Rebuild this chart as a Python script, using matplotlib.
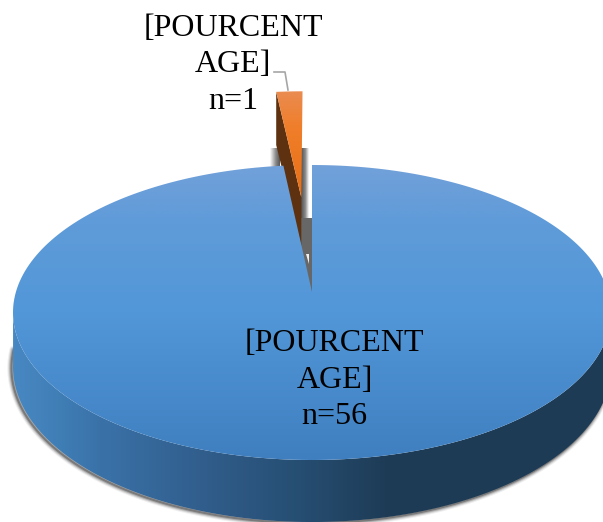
import numpy as np
import matplotlib
matplotlib.use('Agg')
import matplotlib.pyplot as plt
from matplotlib.colors import LinearSegmentedColormap
from matplotlib.patches import Polygon
from matplotlib.transforms import Affine2D

# counts and labels
counts = [56, 1]
pct_text = '[POURCENT\nAGE]'
slice_explode = [0, 0.72]

W, H = 603, 522

# fake 3d view, pie coords -> pixels
apex_x, apex_y = 312, 292
tilt = 0.139
sx, sy = 296.1, 144.65
depth = 53.4


def project(pts):
    w = 1 + tilt * pts[:, 1]
    return np.column_stack([apex_x + sx * pts[:, 0] / w, apex_y - sy * pts[:, 1] / w])


def extrude(pts):
    w = 1 + tilt * pts[:, 1]
    out = project(pts)
    out[:, 1] += depth / w
    return out


def gradient(ax, stops, vertical, clip, z):
    cmap = LinearSegmentedColormap.from_list('g', stops)
    g = np.linspace(0, 1, 512)
    g = g.reshape(-1, 1) if vertical else g.reshape(1, -1)
    box = clip.get_path().vertices
    x0, y0 = box.min(axis=0)
    x1, y1 = box.max(axis=0)
    im = ax.imshow(g, cmap=cmap, extent=(x0, x1, y1, y0), aspect='auto', zorder=z, interpolation='bilinear')
    im.set_clip_path(clip)


fig = plt.figure(figsize=(W / 100, H / 100), dpi=100)
ax = fig.add_axes([0, 0, 1, 1])
wedges, _ = ax.pie(counts, explode=slice_explode, startangle=90, counterclock=False, radius=1)

polys = []
for wd in wedges:
    poly = wd.get_path().to_polygons(Affine2D().scale(1000))[0] / 1000
    polys.append(poly)
    wd.set_visible(False)
main, small = polys


def by_angle(pts):
    return pts[np.argsort(np.arctan2(pts[:, 1], pts[:, 0]))]


# front wall of the big slice
front = by_angle(main[main[:, 1] < -0.1])
wall_xy = np.vstack([project(front), extrude(front)[::-1]])

# soft shadow under the disc, starts a bit higher than the wall
edge = extrude(by_angle(main[main[:, 1] < -0.02])) + [-1.5, 1]
for lw, a in [(6, 0.08), (4.5, 0.15), (3, 0.25), (1.5, 0.4)]:
    ax.plot(edge[:, 0], edge[:, 1], color='#333333', lw=lw, alpha=a, zorder=1, solid_capstyle='round')

wall = Polygon(wall_xy, closed=True, fc='none', ec='none', zorder=2)
ax.add_patch(wall)
gradient(ax, [(0, '#4888c2'), (0.08, '#3f7db5'), (0.145, '#3a72a8'), (0.33, '#305c8a'), (0.48, '#264e72'),
              (0.62, '#1e3c57'), (1, '#1f3b56')], False, wall, 2)

# shadows seen through the gap
small_face = project(small)
tip_x, tip_y = small_face[np.argmax(small_face[:, 1])]
top_y = small_face[:, 1].min()
x_left = small_face[:, 0].min()
shadow_top = top_y + 57
mid_y = tip_y + 21

s1 = Polygon([(tip_x, shadow_top), (tip_x + 8, shadow_top), (tip_x + 8, mid_y), (tip_x, mid_y)], fc='none', ec='none')
ax.add_patch(s1)
gradient(ax, [(0, '#505050'), (0.55, '#8a8a8a'), (1, '#ffffff')], False, s1, 3)
s2 = Polygon([(x_left - 6, shadow_top), (x_left + 4, shadow_top), (x_left + 4, shadow_top + 22), (x_left - 6, shadow_top + 22)],
             fc='none', ec='none')
ax.add_patch(s2)
gradient(ax, [(0, '#ffffff'), (0.6, '#888888'), (1, '#555555')], False, s2, 3)
# gray fills the whole notch under the shadow, big slice top hides the excess
ax.add_patch(Polygon([(tip_x - 12, mid_y), (apex_x, mid_y), (apex_x, apex_y), (apex_x - 4, apex_y)],
                     fc='#676767', ec='none', zorder=3))
ax.add_patch(Polygon([(apex_x - 6, mid_y + 36), (apex_x - 3.5, mid_y + 36), (apex_x - 3.5, mid_y + 46)],
                     fc='#f0f0f0', ec='none', zorder=3.5))

# small slice, exploded
rim = small[np.abs(small[:, 1] - small[:, 1].max()) < 0.02]
rim_left = rim[np.argmin(rim[:, 0])]
apex_small = small[np.argmin(small[:, 1])]
brown = np.vstack([project(np.array([rim_left, apex_small])), extrude(np.array([apex_small, rim_left])) + [[0, 0], [0, 10]]])
ax.add_patch(Polygon(brown, fc='#5e3210', ec='none', zorder=4))
sm = Polygon(small_face, fc='none', ec='none', zorder=5)
ax.add_patch(sm)
gradient(ax, [(0, '#ea8c52'), (0.35, '#f07e2a'), (1, '#e86f15')], True, sm, 5)

# top of the big slice, goes over the small slice wall
top = Polygon(project(main), fc='none', ec='none', zorder=6)
ax.add_patch(top)
gradient(ax, [(0, '#72a1d9'), (0.2, '#5f9bd9'), (0.5, '#5297d8'), (1, '#3f7fc0')], True, top, 6)

# leader line
ax.plot([274, 285, 288], [72, 72, 90], color='#a6a6a6', lw=1.2, zorder=7)

font = dict(family='Liberation Serif', fontsize=23, color='black', ha='center', va='center',
            linespacing=1.34, zorder=8)
ax.text(233, 65, f'{pct_text}\nn={counts[1]}', **font)
ax.text(334.5, 380, f'{pct_text}\nn={counts[0]}', **font)

ax.set_xlim(0, W)
ax.set_ylim(H, 0)
ax.axis('off')
fig.savefig('out.png', dpi=100)
